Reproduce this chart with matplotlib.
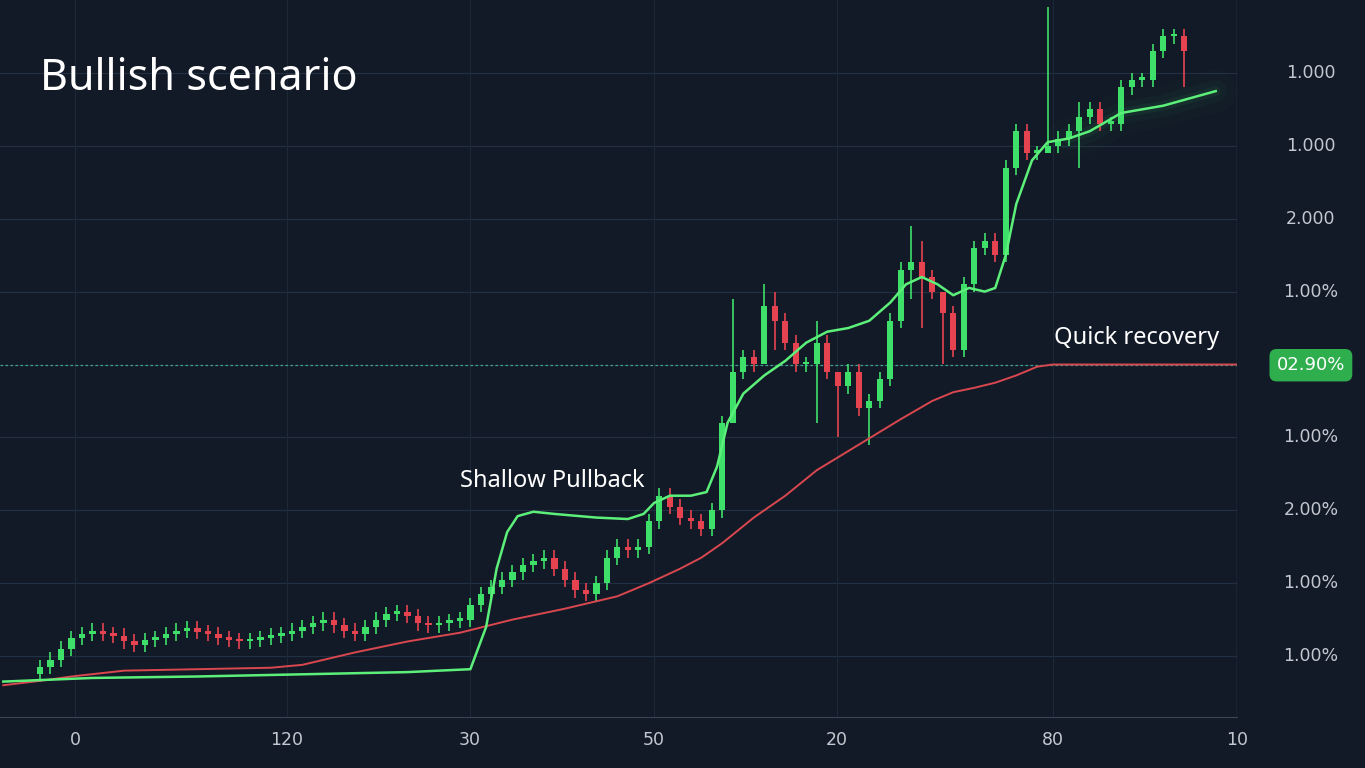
import numpy as np
import matplotlib.pyplot as plt

# candle closes (axis units, gridlines at 1..9)
closes = [0.85, 0.95, 1.1, 1.25, 1.3, 1.35,
          1.3, 1.28, 1.2, 1.15, 1.22, 1.25, 1.3, 1.35, 1.38, 1.33, 1.3, 1.25, 1.22, 1.2, 1.22, 1.25, 1.28, 1.3,
          1.35, 1.4, 1.45, 1.5, 1.42, 1.35, 1.3, 1.4, 1.5, 1.58, 1.6,
          1.55, 1.45, 1.42, 1.45, 1.48, 1.5,
          1.7, 1.85, 1.95, 2.05, 2.15, 2.25,
          2.3, 2.35, 2.2, 2.05,
          1.9, 1.85, 2.0,
          2.35, 2.5, 2.45, 2.5, 2.85,
          3.2, 3.05, 2.9, 2.85, 2.75,
          3.0, 4.2, 4.9, 5.1, 5.0, 5.8,
          5.6, 5.3, 5.0, 5.0, 5.3,
          4.9, 4.7, 4.9, 4.4, 4.5, 4.8,
          5.6, 6.3, 6.4, 6.2,
          6.0, 5.7, 5.2, 6.1, 6.6, 6.7,
          6.5, 7.7, 8.2, 7.9, 7.9,
          8.0, 8.1, 8.2, 8.4, 8.5, 8.3,
          8.3, 8.8, 8.9, 8.9, 9.3, 9.5, 9.5, 9.3]
first_open = 0.75
# notable long wicks: index -> (high, low)
long_wicks = {66: (5.9, 4.8), 69: (6.1, 5.4), 70: (6.0, 5.2), 74: (5.6, 4.2),
              76: (4.9, 4.0), 79: (4.6, 3.9), 83: (6.9, 5.9), 84: (6.7, 5.5),
              86: (6.0, 5.0), 96: (9.9, 7.9), 99: (8.6, 7.7), 109: (9.6, 8.8)}

# moving averages: (candle index, value)
fast_x = [-3.5, 5, 15, 25, 35, 41, 42.5, 43.5, 44.5, 45.5, 47, 49, 53, 56, 57.5, 58.5, 60, 62, 63.5, 64.5,
          65.5, 67, 69, 71, 73, 75, 77, 79, 81, 82.5, 84, 85.5, 87, 88.5, 90, 91, 92, 93, 94.5, 96, 98,
          100, 103, 107, 112]
fast_y = [0.65, 0.7, 0.72, 0.75, 0.78, 0.82, 1.4, 2.2, 2.7, 2.92, 2.98, 2.95, 2.9, 2.88, 2.95, 3.1, 3.2,
          3.2, 3.25, 3.6, 4.2, 4.6, 4.85, 5.05, 5.3, 5.45, 5.5, 5.6, 5.85, 6.1, 6.2, 6.1, 5.95, 6.05, 6.0,
          6.05, 6.5, 7.2, 7.8, 8.05, 8.1, 8.2, 8.45, 8.55, 8.75]
slow_x = [-3.5, 0, 3, 8, 15, 22, 25, 30, 35, 40, 45, 50, 55, 58, 61, 63, 65, 68, 71, 74, 78, 82, 85, 87,
          89, 91, 93, 95, 96.5, 114]
slow_y = [0.6, 0.66, 0.72, 0.8, 0.82, 0.84, 0.88, 1.05, 1.2, 1.32, 1.5, 1.65, 1.82, 2.0, 2.2, 2.35, 2.55,
          2.9, 3.2, 3.55, 3.9, 4.25, 4.5, 4.62, 4.68, 4.75, 4.85, 4.97, 5.0, 5.0]

ytick_pos = [1, 2, 3, 4, 6, 7, 8, 9]
ytick_lbl = ['1.00%', '1.00%', '2.00%', '1.00%', '1.00%', '2.000', '1.000', '1.000']
xtick_pos = [3.33, 23.5, 40.95, 58.5, 75.9, 96.5, 114.0]
xtick_lbl = ['0', '120', '30', '50', '20', '80', '10']
last_level = 4.99

bg = '#131a27'
up, dn = '#3ee06a', '#e5434f'
fig = plt.figure(figsize=(13.65, 7.68), dpi=100, facecolor=bg)
ax = fig.add_axes([0, 0.066, 0.906, 0.934], facecolor=bg)
ax.set_xlim(-3.81, 114.0)
ax.set_ylim(0.16, 10.0)

for y in ytick_pos + [last_level]:
    ax.axhline(y, color='#223044', lw=0.8, zorder=0)
for x in xtick_pos:
    ax.axvline(x, color='#1d2838', lw=0.8, zorder=0)
ax.axhline(last_level, color='#3fa38a', lw=0.9, ls=(0, (2, 2)), zorder=1)

opens = [first_open] + closes[:-1]
for i, (o, c) in enumerate(zip(opens, closes)):
    col = up if c >= o else dn
    hi, lo = long_wicks.get(i, (max(o, c) + 0.1, min(o, c) - 0.1))
    ax.vlines(i, lo, hi, color=col, lw=1.2, zorder=3)
    body = max(abs(c - o), 0.04)
    ax.bar(i, body, bottom=min(o, c), width=0.6, color=col, zorder=4)

# glow behind fast line
for w, a in [(30, 0.02), (16, 0.035), (7, 0.06)]:
    ax.plot(fast_x[40:], fast_y[40:], color='#3ee06a', lw=w, alpha=a, solid_capstyle='round', zorder=2)
ax.plot(slow_x, slow_y, color='#d9474f', lw=1.4, zorder=5)
ax.plot(fast_x, fast_y, color='#5cf07a', lw=1.8, zorder=5)

for s in ['top', 'left', 'right']:
    ax.spines[s].set_visible(False)
ax.spines['bottom'].set_color('#3a4556')
ax.axvline(114.0, color='#3a4556', lw=1)
ax.set_yticks([])
ax.set_xticks(xtick_pos, xtick_lbl)
ax.tick_params(axis='x', length=0, colors='#c3c8d0', labelsize=12.5, pad=10)
for y, t in zip(ytick_pos, ytick_lbl):
    ax.text(1.06, y, t, transform=ax.get_yaxis_transform(), ha='center', va='center',
            color='#c3c8d0', fontsize=12.5, clip_on=False)
ax.text(1.06, last_level, '02.90%', transform=ax.get_yaxis_transform(), ha='center', va='center',
        color='white', fontsize=13, clip_on=False,
        bbox=dict(boxstyle='round,pad=0.4', fc='#2fae4e', ec='none'))

ax.text(0.029, 0.897, 'Bullish scenario', transform=fig.transFigure, color='white',
        fontsize=31, fontfamily='Noto Sans', fontweight='medium', va='center')
ax.text(57.6, 3.4, 'Shallow Pullback', color='white', fontsize=17, ha='right', va='center',
        fontfamily='Noto Sans')
ax.text(112.3, 5.2, 'Quick recovery', color='white', fontsize=17, ha='right', va='bottom',
        fontfamily='Noto Sans')

fig.savefig('out.png', dpi=100, facecolor=bg)
